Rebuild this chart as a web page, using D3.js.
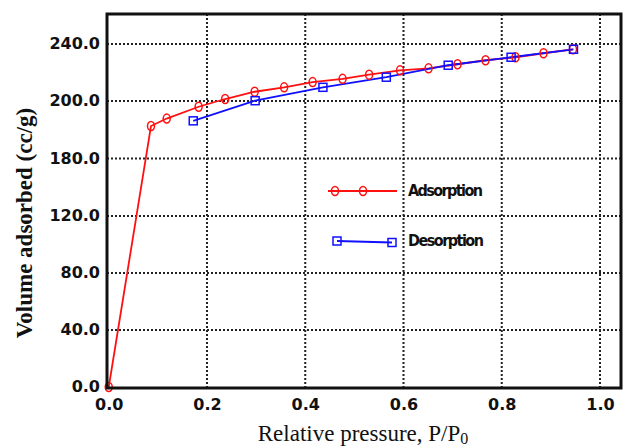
<!DOCTYPE html>
<html>
<head>
<meta charset="utf-8">
<script src="https://cdn.jsdelivr.net/npm/d3@7"></script>
<style>
  body { margin: 0; background: #fff; }
  .tick-label { font-family: "DejaVu Sans", Verdana, sans-serif; font-weight: bold; font-size: 16px; fill: #111; }
  .title { font-family: "Liberation Serif", "DejaVu Serif", serif; fill: #111; }
  .legend-text { font-family: "DejaVu Sans Condensed", "DejaVu Sans", sans-serif; font-weight: bold; font-size: 16px; fill: #111; }
  .grid line { stroke: #222; stroke-width: 2; stroke-dasharray: 2,2; }
</style>
</head>
<body>
<script>
// P/P0 and volume adsorbed (cc/g)
var adsP = [0.0, 0.086, 0.118, 0.183, 0.237, 0.297, 0.357, 0.415, 0.476, 0.530, 0.593, 0.651, 0.710, 0.767, 0.828, 0.885, 0.945];
var adsV = [0.0, 191.3, 193.9, 198.0, 201.4, 206.5, 209.6, 213.3, 215.6, 218.5, 221.5, 222.9, 225.8, 228.6, 230.7, 233.5, 236.3];
var desP = [0.172, 0.298, 0.436, 0.565, 0.691, 0.819, 0.946];
var desV = [193.1, 200.2, 209.6, 216.7, 225.1, 230.7, 236.3];

var xTicks = [0.0, 0.2, 0.4, 0.6, 0.8, 1.0];
var yTicks = [0, 40, 80, 120, 180, 200, 240];   // labels as printed (uneven)
var seriesNames = ["Adsorption", "Desorption"];

var width = 624;
var height = 446;
var frame = {left: 107, top: 14, right: 621, bottom: 388};

var svg = d3.select("body")
    .append("svg")
    .attr("width", width)
    .attr("height", height);

var x = d3.scaleLinear()
    .domain([0, 1])
    .range([108.75, 600]);

// the printed y labels are evenly spaced in pixels, so use a piecewise scale
var y = d3.scaleLinear()
    .domain(yTicks)
    .range([387, 330, 273, 216, 158.5, 101, 44]);

// grid
var grid = svg.append("g").attr("class", "grid");
grid.selectAll(".vx")
    .data(xTicks.filter(function(d) { return d > 0; }))
    .enter()
    .append("line")
    .attr("x1", function(d) { return x(d); })
    .attr("x2", function(d) { return x(d); })
    .attr("y1", frame.top)
    .attr("y2", frame.bottom);
grid.selectAll(".hy")
    .data(yTicks.filter(function(d) { return d > 0; }))
    .enter()
    .append("line")
    .attr("x1", frame.left)
    .attr("x2", frame.right)
    .attr("y1", function(d) { return y(d); })
    .attr("y2", function(d) { return y(d); });

// axes with tick labels only
var xAxis = svg.append("g")
    .attr("transform", "translate(0," + frame.bottom + ")")
    .call(d3.axisBottom(x).tickValues(xTicks).tickFormat(d3.format(".1f")).tickSize(0).tickPadding(11));
var yAxis = svg.append("g")
    .attr("transform", "translate(" + frame.left + ",0)")
    .call(d3.axisLeft(y).tickValues(yTicks).tickFormat(d3.format(".1f")).tickSize(0).tickPadding(7));
[xAxis, yAxis].forEach(function(a) {
    a.select(".domain").remove();
    a.selectAll("text").attr("class", "tick-label").attr("font-size", null).attr("font-family", null);
});
yAxis.selectAll("text").attr("dy", "0.3em");

// series
var line = d3.line()
    .x(function(d) { return x(d[0]); })
    .y(function(d) { return y(d[1]); });

var ads = d3.zip(adsP, adsV);
var des = d3.zip(desP, desV);

var plot = svg.append("g");
plot.append("path")
    .datum(ads)
    .attr("d", line)
    .attr("fill", "none")
    .attr("stroke", "#ff1010")
    .attr("stroke-width", 1.8);
plot.append("path")
    .datum(des)
    .attr("d", line)
    .attr("fill", "none")
    .attr("stroke", "#1010ff")
    .attr("stroke-width", 1.8);

plot.selectAll(".ads")
    .data(ads)
    .enter()
    .append("ellipse")
    .attr("cx", function(d) { return x(d[0]); })
    .attr("cy", function(d) { return y(d[1]); })
    .attr("rx", 3.5)
    .attr("ry", 4.5)
    .attr("fill", "none")
    .attr("stroke", "#ff1010")
    .attr("stroke-width", 1.5);
plot.selectAll(".des")
    .data(des)
    .enter()
    .append("rect")
    .attr("x", function(d) { return x(d[0]) - 4; })
    .attr("y", function(d) { return y(d[1]) - 4; })
    .attr("width", 8)
    .attr("height", 8)
    .attr("fill", "none")
    .attr("stroke", "#1010ff")
    .attr("stroke-width", 1.5);

// frame
svg.append("rect")
    .attr("x", frame.left)
    .attr("y", frame.top)
    .attr("width", frame.right - frame.left)
    .attr("height", frame.bottom - frame.top)
    .attr("fill", "none")
    .attr("stroke", "#111")
    .attr("stroke-width", 3);

// legend
var legend = svg.append("g");
var lgA = legend.append("g").attr("transform", "translate(0,191)");
lgA.append("line").attr("x1", 328).attr("x2", 397).attr("y1", 0).attr("y2", 0)
    .attr("stroke", "#ff1010").attr("stroke-width", 1.8);
lgA.selectAll("ellipse").data([335, 363]).enter().append("ellipse")
    .attr("cx", function(d) { return d; }).attr("cy", 0)
    .attr("rx", 3.5).attr("ry", 4.5)
    .attr("fill", "none").attr("stroke", "#ff1010").attr("stroke-width", 1.5);
lgA.append("text").attr("class", "legend-text").attr("x", 408).attr("y", 5)
    .attr("textLength", 75).text(seriesNames[0]);

var lgD = legend.append("g").attr("transform", "translate(0,241)");
lgD.append("line").attr("x1", 337).attr("x2", 392).attr("y1", 0).attr("y2", 1.5)
    .attr("stroke", "#1010ff").attr("stroke-width", 1.8);
lgD.selectAll("rect").data([[337, 0], [392, 1.5]]).enter().append("rect")
    .attr("x", function(d) { return d[0] - 4; }).attr("y", function(d) { return d[1] - 4; })
    .attr("width", 8).attr("height", 8)
    .attr("fill", "none").attr("stroke", "#1010ff").attr("stroke-width", 1.5);
lgD.append("text").attr("class", "legend-text").attr("x", 408).attr("y", 5)
    .attr("textLength", 76).text(seriesNames[1]);

// axis titles
var xt = svg.append("text")
    .attr("class", "title")
    .attr("x", 363)
    .attr("y", 441)
    .attr("text-anchor", "middle")
    .attr("font-size", 23);
xt.append("tspan").text("Relative pressure, P/P");
xt.append("tspan").attr("font-size", 16).attr("dy", 3).text("0");

svg.append("text")
    .attr("class", "title")
    .attr("transform", "translate(32,223) rotate(-90)")
    .attr("text-anchor", "middle")
    .attr("font-size", 23)
    .attr("font-weight", "bold")
    .text("Volume adsorbed (cc/g)");
</script>
</body>
</html>
